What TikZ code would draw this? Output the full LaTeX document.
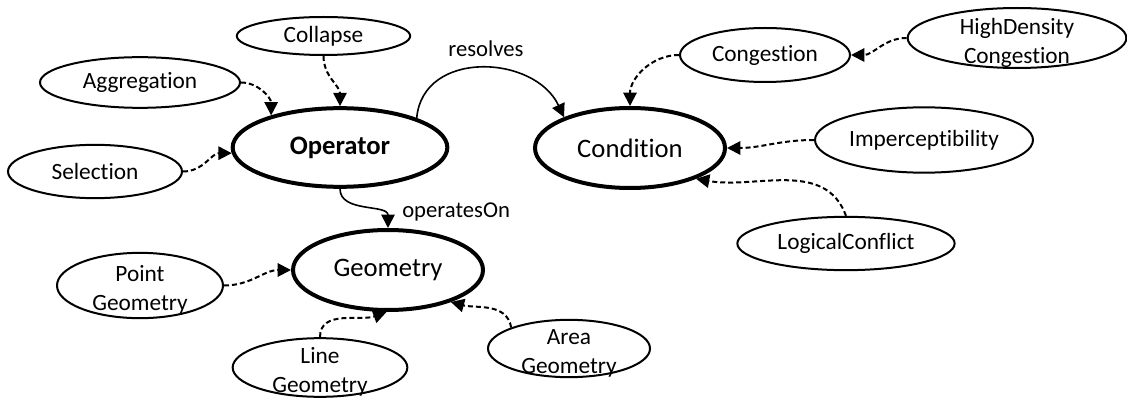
\documentclass[tikz,border=0pt]{standalone}
\usepackage{fontspec}
\setmainfont{Carlito}[Ligatures={NoCommon,NoRare,NoContextual}]
\usetikzlibrary{shapes.geometric, arrows.meta}

\tikzset{
  concept/.style={ellipse, draw, line width=3pt, inner sep=0pt,
    minimum width=142.5pt, minimum height=60pt, font=\fontsize{20}{24}\selectfont},
  subconcept/.style={ellipse, draw, line width=1.5pt, inner sep=0pt,
    font=\fontsize{17.5}{21.5}\selectfont},
  twoline/.style={align=center, yshift=-3.5pt, font=\fontsize{17.5}{21.5}\selectfont},
  isa/.style={-{Triangle[length=10pt,width=10pt]}, line width=1.5pt,
    dash pattern=on 3.75pt off 2.25pt},
  rel/.style={-{Triangle[length=10pt,width=10pt]}, line width=1.2pt},
  lbl/.style={font=\fontsize{17}{20}\selectfont, inner sep=0pt}
}

\begin{document}
\begin{tikzpicture}[x=0.75pt, y=0.75pt]
  \useasboundingbox (0,0) rectangle (1127,-399);

  % main concepts
  \node[concept, minimum width=161pt, minimum height=59pt,
    font=\fontsize{20}{24}\selectfont\bfseries] (op) at (340,-147.5) {Operator};
  \node[concept] (cond) at (630,-148) {Condition};
  \node[concept] (geo) at (388,-270) {Geometry};

  % operators
  \node[subconcept, minimum width=130pt, minimum height=28.5pt] (col) at (323.5,-36) {Collapse};
  \node[subconcept, minimum width=150pt, minimum height=38pt] (agg) at (140,-82.5) {Aggregation};
  \node[subconcept, minimum width=130.5pt, minimum height=40pt] (sel) at (95,-171.5) {Selection};

  % conditions
  \node[subconcept, minimum width=127.5pt, minimum height=40.5pt] (cong) at (765,-55) {Congestion};
  \node[subconcept, minimum width=164pt, minimum height=45pt,
    label={[twoline]center:HighDensity\\Congestion}] (hdcong) at (1017,-38) {};
  \node[subconcept, minimum width=163.5pt, minimum height=49pt] (imp) at (924,-140) {Imperceptibility};
  \node[subconcept, minimum width=163pt, minimum height=40pt] (logc) at (846,-243.5) {LogicalConflict};

  % geometries
  \node[subconcept, minimum width=124.5pt, minimum height=49pt,
    label={[twoline]center:Point\\Geometry}] (ptgeo) at (140,-285.5) {};
  \node[subconcept, minimum width=131pt, minimum height=44pt,
    label={[twoline]center:Line\\Geometry}] (lngeo) at (320,-367.5) {};
  \node[subconcept, minimum width=121.5pt, minimum height=43pt,
    label={[twoline]center:Area\\Geometry}] (argeo) at (569,-348.5) {};

  % relations
  \draw[rel] (op.21) to[out=85, in=115, looseness=1.2] (cond.155);
  \node[lbl, anchor=base] (reslbl) at (486,-57) {resolves};
  \draw[rel] (op.south) to[out=-90, in=90] (geo.north);
  \node[lbl, anchor=base west] (oplbl) at (402,-217) {operatesOn};

  % subclasses
  \draw[isa] (col.south) to[out=-90, in=90] (op.north);
  \draw[isa] (agg.east) to[out=0, in=90] (op.155);
  \draw[isa] (sel.east) to[out=0, in=180] (op.183);
  \draw[isa] (cong.west) to[out=180, in=90] (cond.north);
  \draw[isa] (hdcong.west) to[out=180, in=0] (cong.east);
  \draw[isa] (imp.west) to[out=180, in=0] (cond.east);
  \draw[isa] (logc.north) to[out=110, in=-10] (cond.-25);
  \draw[isa] (ptgeo.east) to[out=0, in=180] (geo.west);
  \draw[isa] (lngeo.north) to[out=90, in=200] (geo.268);
  \draw[isa] (argeo.160) to[out=100, in=-15] (geo.-27);
\end{tikzpicture}
\end{document}
